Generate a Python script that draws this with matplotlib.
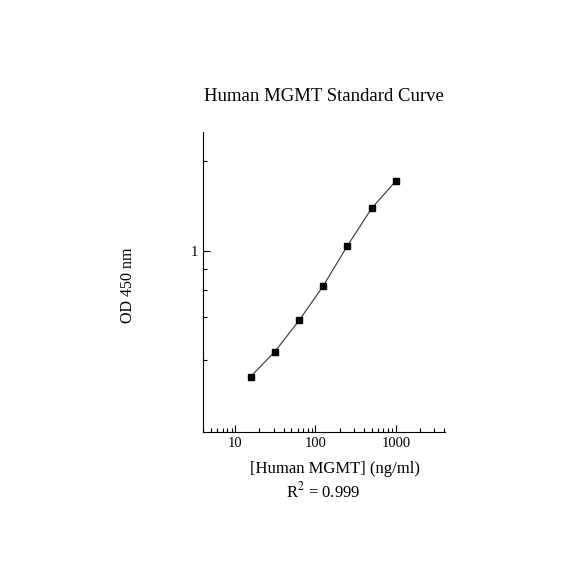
import numpy as np
import matplotlib
matplotlib.use("Agg")
import matplotlib.pyplot as plt
from matplotlib.ticker import FixedLocator, NullFormatter

# standard concentrations (ng/ml) and OD readings
conc = [15.6, 31.25, 62.5, 125, 250, 500, 1000]
od = [0.383, 0.464, 0.589, 0.768, 1.045, 1.391, 1.716]

x_major = [10, 100, 1000]
x_minor = [4, 5, 6, 7, 8, 9, 20, 30, 40, 50, 60, 70, 80, 90,
           200, 300, 400, 500, 600, 700, 800, 900, 2000, 3000, 4000]
y_major = [1]
y_minor = [2, 0.876, 0.745, 0.603, 0.436]

plt.rcParams['font.family'] = ['Liberation Serif', 'DejaVu Serif']

fig = plt.figure(figsize=(5.84, 5.84), dpi=100)
ax = fig.add_axes([0.348, 0.260, 0.414, 0.514])

ax.plot(conc, od, color="#333333", lw=0.8)
ax.plot(conc, od, "s", color="black", ms=4)

ax.set_xscale("log")
ax.set_yscale("log")
ax.set_xlim(4, 4100)
ax.set_ylim(0.25, 2.5)

ax.xaxis.set_major_locator(FixedLocator(x_major))
ax.xaxis.set_minor_locator(FixedLocator(x_minor))
ax.yaxis.set_major_locator(FixedLocator(y_major))
ax.yaxis.set_minor_locator(FixedLocator(y_minor))
ax.xaxis.set_minor_formatter(NullFormatter())
ax.yaxis.set_minor_formatter(NullFormatter())
ax.set_xticklabels([str(v) for v in x_major])
ax.set_yticklabels([str(v) for v in y_major])

ax.tick_params(which="both", direction="in", labelsize=10.5, width=0.8)
ax.tick_params(which="major", length=5)
ax.tick_params(which="minor", length=3)

ax.spines["top"].set_visible(False)
ax.spines["right"].set_visible(False)

ax.set_title("Human MGMT Standard Curve", fontsize=13.5, pad=22)
ax.set_xlabel("[Human MGMT] (ng/ml)", fontsize=12)
ax.xaxis.set_label_coords(0.545, -0.097)
ax.set_ylabel("OD 450 nm", fontsize=11.5)
ax.yaxis.set_label_coords(-0.28, 0.49)
fig.text(0.553, 0.159, "R$^2$ = 0.999", ha="center", va="center", fontsize=12,
         math_fontfamily="stix")

fig.savefig("out.png", dpi=100)
